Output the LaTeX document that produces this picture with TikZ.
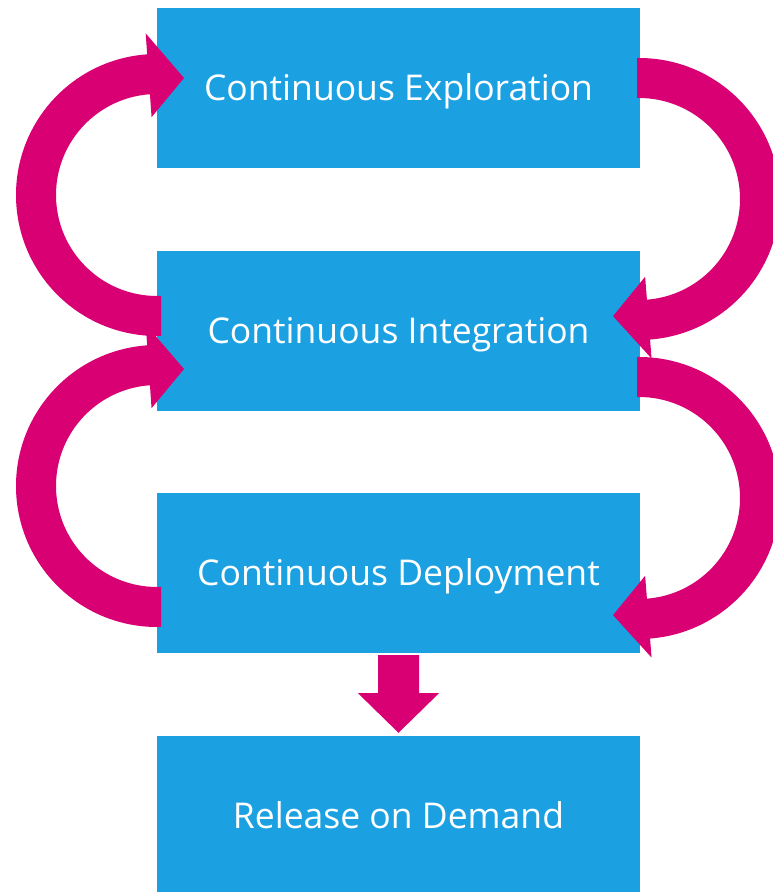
\documentclass[tikz,border=0pt]{standalone}
\usepackage{fontspec}
\setmainfont{Open Sans}
\usetikzlibrary{calc}
\definecolor{tileblue}{HTML}{1BA1E2}
\definecolor{loopmag}{HTML}{D80073}
\tikzset{
  stage/.style={fill=tileblue, draw=none, minimum width=483pt, minimum height=160pt,
    inner sep=0pt, text=white, text height=25pt, text depth=0pt,
    font=\fontsize{35.5}{40}\selectfont},
  loop/.style={fill=loopmag, draw=none}
}
\begin{document}
\begin{tikzpicture}[x=1pt,y=1pt]
\useasboundingbox (0,0) rectangle (773,892);
\clip (0,0) rectangle (773,892);

% pipeline stages
\node[stage] (ce) at (398.5,804) {Continuous Exploration};
\node[stage] (ci) at (398.5,561) {Continuous Integration};
\node[stage] (cd) at (398.5,319) {Continuous Deployment};
\node[stage] (rd) at (398.5,76)  {Release on Demand};

% centres of the feedback loops
\coordinate (l1) at (157,697);
\coordinate (l2) at (157,406);
\coordinate (r1) at (639,693);
\coordinate (r2) at (639,394);

% left loops: from a stage back up to the one above
\foreach \c in {l1,l2}{
  \fill[loop] ($(\c)+(4,-141)$) -- ($(\c)+(270:141)$)
    arc[start angle=270, end angle=94, radius=141pt]
    -- ($(\c)+(94:162)$) -- ($(\c)+(77:120)$) -- ($(\c)+(94:78)$)
    -- ($(\c)+(94:101)$)
    arc[start angle=94, end angle=270, radius=101pt]
    -- ($(\c)+(4,-101)$) -- cycle;
}

% right loops: from a stage down to the next one
\foreach \c in {r1,r2}{
  \fill[loop] ($(\c)+(-2,141)$) -- ($(\c)+(90:141)$)
    arc[start angle=90, end angle=-85.5, radius=141pt]
    -- ($(\c)+(-85.5:160)$) -- ($(\c)+(-102.5:120)$) -- ($(\c)+(-85.5:78)$)
    -- ($(\c)+(-85.5:101)$)
    arc[start angle=-85.5, end angle=90, radius=101pt]
    -- ($(\c)+(-2,101)$) -- cycle;
}

% release arrow
\fill[loop] ($(cd.south)+(-20.5,-2)$) -- ($(cd.south)+(20.5,-2)$)
  -- ($(cd.south)+(20.5,-40)$) -- ($(cd.south)+(40.5,-40)$)
  -- ($(rd.north)+(0,3)$)
  -- ($(cd.south)+(-40.5,-40)$) -- ($(cd.south)+(-20.5,-40)$) -- cycle;
\end{tikzpicture}
\end{document}
